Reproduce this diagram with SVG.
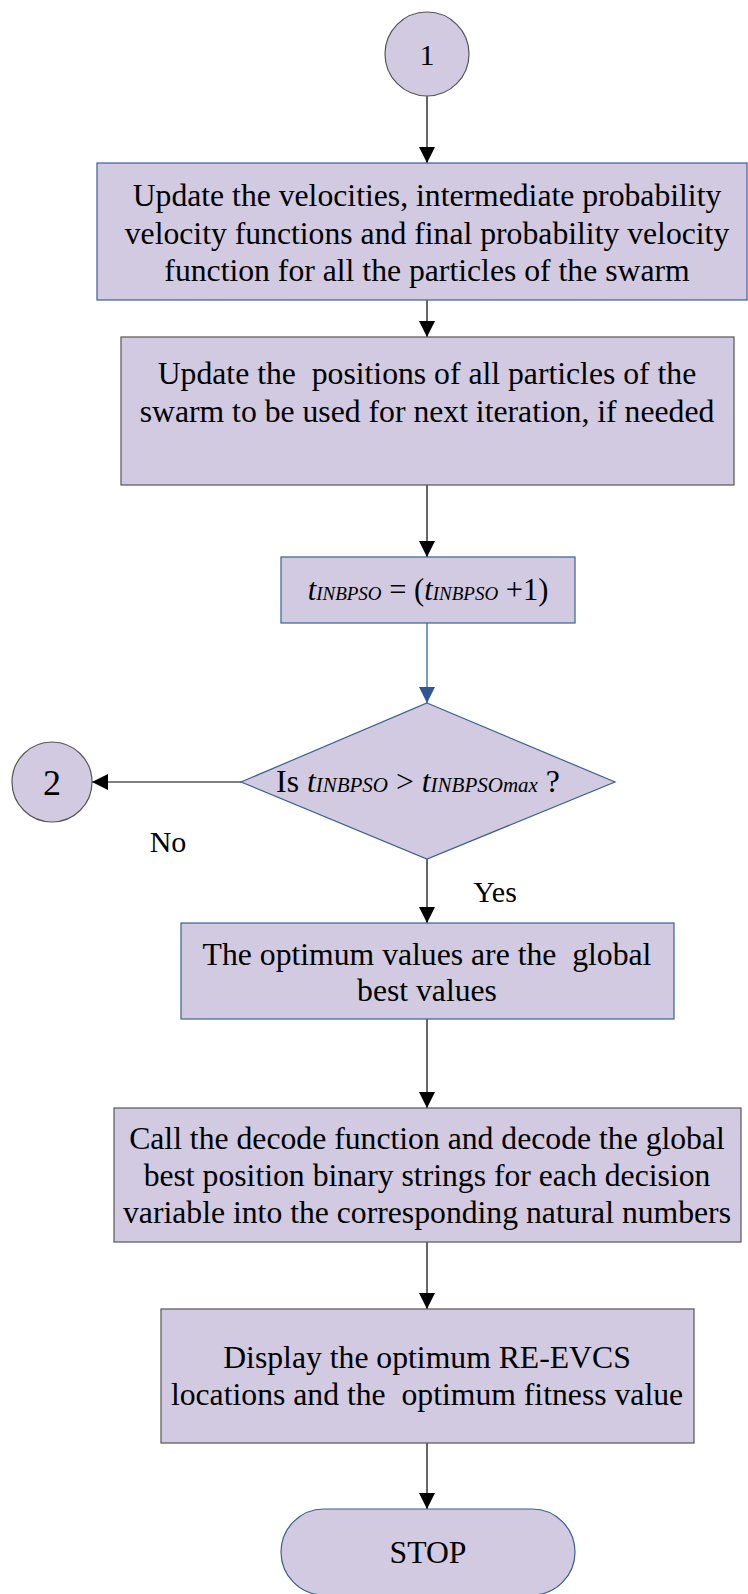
<svg xmlns="http://www.w3.org/2000/svg" width="748" height="1594" viewBox="0 0 748 1594">
  <defs>
    <style>
      .shape { fill: #d1cae0; stroke: #3b5f93; stroke-width: 1.2; }
      .shape.grey { stroke: #555555; }
      .conn { fill: none; stroke: #000000; stroke-width: 1.2; }
      .conn.blue { stroke: #2f5597; }
      text { font-family: "Liberation Serif", "Times New Roman", serif; font-size: 31.7px; fill: #000000; white-space: pre; }
      .mid { text-anchor: middle; }
      .it { font-style: italic; }
      .sub { font-style: italic; font-size: 21px; }
      .formula { font-size: 30.5px; }
      .formula .sub { font-size: 19px; }
      .label { font-size: 30px; }
    </style>
    <marker id="arrow" markerUnits="userSpaceOnUse" markerWidth="16" markerHeight="18" refX="16" refY="8" orient="auto">
      <path d="M0,0 L16,8 L0,16 Z" fill="#000000"/>
    </marker>
    <marker id="arrowBlue" markerUnits="userSpaceOnUse" markerWidth="16" markerHeight="18" refX="16" refY="8" orient="auto">
      <path d="M0,0 L16,8 L0,16 Z" fill="#2f5597"/>
    </marker>
  </defs>

  <!-- connectors -->
  <g id="connectors">
    <line class="conn" x1="427" y1="96" x2="427" y2="163" marker-end="url(#arrow)"/>
    <line class="conn" x1="427" y1="300" x2="427" y2="337" marker-end="url(#arrow)"/>
    <line class="conn" x1="427" y1="485" x2="427" y2="557" marker-end="url(#arrow)"/>
    <line class="conn blue" x1="427" y1="623" x2="427" y2="703" marker-end="url(#arrowBlue)"/>
    <line class="conn" x1="241" y1="782" x2="92" y2="782" marker-end="url(#arrow)"/>
    <line class="conn" x1="427" y1="859" x2="427" y2="923" marker-end="url(#arrow)"/>
    <line class="conn" x1="427" y1="1019" x2="427" y2="1108" marker-end="url(#arrow)"/>
    <line class="conn" x1="427" y1="1242" x2="427" y2="1309" marker-end="url(#arrow)"/>
    <line class="conn" x1="427" y1="1443" x2="427" y2="1509" marker-end="url(#arrow)"/>
    <text x="168" y="852" class="mid label">No</text>
    <text x="495" y="902" class="mid label">Yes</text>
  </g>

  <!-- connector 1 -->
  <g id="start-connector">
    <circle class="shape grey" cx="427" cy="54" r="42"/>
    <text x="427" y="65" class="mid label">1</text>
  </g>

  <g id="update-velocities">
    <rect class="shape" x="97" y="163" width="650" height="137"/>
    <text x="427" y="206" class="mid">Update the velocities, intermediate probability</text>
    <text x="427" y="244" class="mid">velocity functions and final probability velocity</text>
    <text x="427" y="281" class="mid">function for all the particles of the swarm</text>
  </g>

  <g id="update-positions">
    <rect class="shape grey" x="121" y="337" width="613" height="148"/>
    <text x="427" y="384" class="mid">Update the  positions of all particles of the</text>
    <text x="427" y="422" class="mid">swarm to be used for next iteration, if needed</text>
  </g>

  <g id="increment-counter">
    <rect class="shape" x="281" y="557" width="294" height="66"/>
    <text x="428" y="600" class="mid formula"><tspan class="it">t</tspan><tspan class="sub">INBPSO</tspan> = (<tspan class="it">t</tspan><tspan class="sub">INBPSO</tspan> +1)</text>
  </g>

  <g id="iteration-check">
    <polygon class="shape" points="427,703 615,782 427,859 241,782"/>
    <text x="418" y="792" class="mid">Is <tspan class="it">t</tspan><tspan class="sub">INBPSO</tspan> &gt; <tspan class="it">t</tspan><tspan class="sub">INBPSOmax</tspan> ?</text>
  </g>

  <!-- connector 2 -->
  <g id="loop-connector">
    <circle class="shape grey" cx="52" cy="782" r="40"/>
    <text x="52" y="795" class="mid" style="font-size:36px">2</text>
  </g>

  <g id="optimum-values">
    <rect class="shape" x="181" y="923" width="493" height="96"/>
    <text x="427" y="965" class="mid">The optimum values are the  global</text>
    <text x="427" y="1001" class="mid">best values</text>
  </g>

  <g id="decode">
    <rect class="shape grey" x="114" y="1108" width="627" height="134"/>
    <text x="427" y="1149" class="mid">Call the decode function and decode the global</text>
    <text x="427" y="1186" class="mid">best position binary strings for each decision</text>
    <text x="427" y="1223" class="mid">variable into the corresponding natural numbers</text>
  </g>

  <g id="display-results">
    <rect class="shape grey" x="161" y="1309" width="533" height="134"/>
    <text x="427" y="1368" class="mid">Display the optimum RE-EVCS</text>
    <text x="427" y="1405" class="mid">locations and the  optimum fitness value</text>
  </g>

  <g id="stop">
    <rect class="shape" x="281" y="1509" width="294" height="86" rx="43" ry="43"/>
    <text x="428" y="1563" class="mid">STOP</text>
  </g>
</svg>
